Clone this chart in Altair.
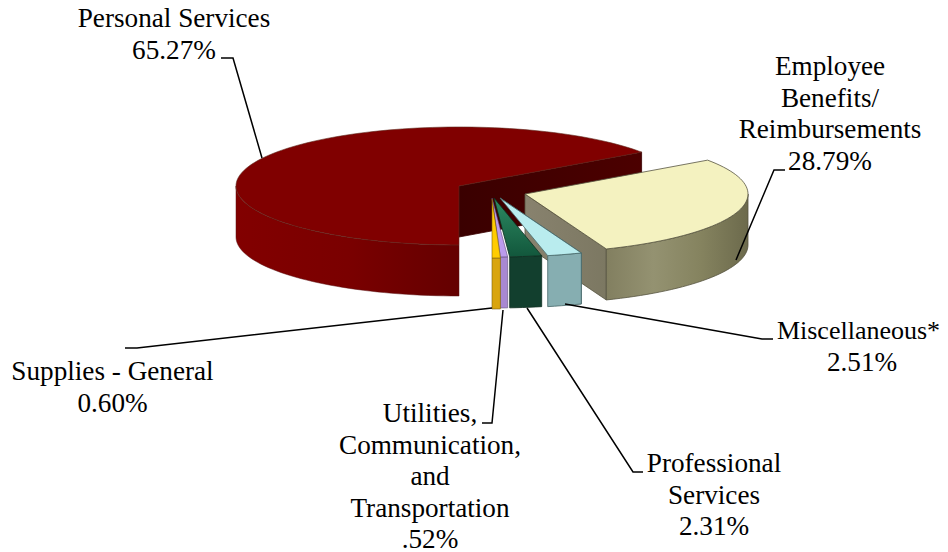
import math
import altair as alt
import pandas as pd

# ---- data ----
categories = ["Personal Services", "Employee Benefits/Reimbursements", "Miscellaneous*",
              "Professional Services", "Utilities, Communication, and Transportation", "Supplies - General"]
shares = [65.27, 28.79, 2.51, 2.31, 0.52, 0.60]
label_lines = [
    ["Personal Services", "65.27%"],
    ["Employee", "Benefits/", "Reimbursements", "28.79%"],
    ["Miscellaneous*", "2.51%"],
    ["Professional", "Services", "2.31%"],
    ["Utilities,", "Communication,", "and", "Transportation", ".52%"],
    ["Supplies - General", "0.60%"],
]

# ---- layout ----
RX, RY, DEPTH = 223, 59, 51
START = 270.0
centers = [(459, 186), (525, 194), (500, 198), (494, 198), (492, 198), (492, 199)]
label_x = [174, 830, 862, 714, 430, 112.5]
label_base = [27, 75, 339, 472, 422, 380]
LINE_H = 31.6
FONT = 27.2
leaders = [
    [(221, 58), (233, 58), (262, 158)],
    [(785, 170), (774, 170), (736, 260)],
    [(773, 339), (762, 339), (565, 304)],
    [(643, 472), (633, 472), (527, 308)],
    [(482, 423), (492, 423), (503, 310)],
    [(125, 348), (137, 348), (492, 308)],
]

X = alt.X("x:Q", scale=alt.Scale(domain=[8, 940]), axis=None)
Y = alt.Y("y:Q", scale=alt.Scale(domain=[552, 8]), axis=None)


def grad(*cols):
    n = len(cols) - 1
    return {"gradient": "linear", "x1": 0, "x2": 1, "y1": 0, "y2": 0,
            "stops": [{"offset": i / n, "color": c} for i, c in enumerate(cols)]}


def pt(c, t, dz=0):
    r = math.radians(t)
    return (c[0] + RX * math.cos(r), c[1] - RY * math.sin(r) + dz)


def arc(c, t0, t1, dz=0):
    n = max(2, int(abs(t1 - t0) / 2) + 2)
    return [pt(c, t0 + (t1 - t0) * i / (n - 1), dz) for i in range(n)]


def poly(points, fill, stroke, sw=0.8):
    pts = list(points) + [points[0]]
    df = pd.DataFrame({"x": [p[0] for p in pts], "y": [p[1] for p in pts], "i": range(len(pts))})
    return alt.Chart(df).mark_line(filled=True, fill=fill, stroke=stroke, strokeWidth=sw,
                                   strokeJoin="round").encode(x=X, y=Y, order="i:Q")


def down(p):
    return (p[0], p[1] + DEPTH)


# angular extents from the shares
ext = []
t = START
for s in shares:
    t1 = t - s * 3.6
    ext.append((t, t1))
    t = t1

layers = []

# Personal Services
c = centers[0]
t0, t1 = ext[0]
layers.append(poly([c, pt(c, t1), down(pt(c, t1)), down(c)], grad("#3a0000", "#4c0000"), "#3a0000"))
layers.append(poly(arc(c, 180, t0) + arc(c, t0, 180, DEPTH), grad("#820000", "#7a0000", "#640000"), "#5a1010", 0.5))
layers.append(poly([c] + arc(c, t0, t1), "#800000", "#5f2a1e", 0.6))

# Employee Benefits
c = centers[1]
t0, t1 = ext[1]
layers.append(poly([c, pt(c, t1), down(pt(c, t1)), down(c)], grad("#88826e", "#7c7862"), "#55533f"))
layers.append(poly(arc(c, t1, 0) + arc(c, 0, t1, DEPTH), grad("#827f60", "#949271", "#85835f", "#6c6a4c"), "#55533f"))
layers.append(poly([c] + arc(c, t0, t1), "#f4f2c0", "#55533f"))

# Miscellaneous
c = centers[2]
t0, t1 = ext[2]
e = pt(c, t0)
layers.append(poly([c, e, down(e), (e[0] - 5, e[1] + DEPTH), (e[0] - 5, e[1] + 2)], "#557476", "#3f5c5e"))
layers.append(poly(arc(c, t0, t1) + arc(c, t1, t0, DEPTH), "#86aeb1", "#47686a"))
layers.append(poly([c] + arc(c, t0, t1), "#b9ecee", "#47686a"))

# Professional Services
c = centers[3]
t0, t1 = ext[3]
layers.append(poly(arc(c, t0, t1) + arc(c, t1, t0, DEPTH), "#123f2e", "#0c2d20"))
layers.append(poly([c] + arc(c, t0, t1), {"gradient": "linear", "x1": 0, "x2": 0, "y1": 0, "y2": 1,
              "stops": [{"offset": 0, "color": "#2d8a62"}, {"offset": 1, "color": "#12573c"}]}, "#0c2d20"))

# Utilities
c = centers[4]
t0, t1 = ext[4]
layers.append(poly(arc(c, t0, t1) + arc(c, t1, t0, DEPTH), "#a888d2", "#5c4a78", 0.6))
layers.append(poly([c] + arc(c, t0, t1), "#bb9bec", "#5c4a78", 0.6))

# Supplies
c = centers[5]
t0, t1 = ext[5]
layers.append(poly(arc(c, t0, t1) + arc(c, t1, t0, DEPTH), "#d9a50f", "#7a6010", 0.6))
layers.append(poly([c] + arc(c, t0, t1), "#ffcc00", "#7a6010", 0.6))

# Leaders
rows = []
for k, pts in enumerate(leaders):
    for i, p in enumerate(pts):
        rows.append({"k": k, "i": i, "x": p[0], "y": p[1]})
layers.append(alt.Chart(pd.DataFrame(rows)).mark_line(color="#000000", strokeWidth=1.5).encode(
    x=X, y=Y, order="i:Q", detail="k:N"))

# Labels: the picture's right edge stops at x=940, so the widest label is set a touch smaller to stay whole
rows = []
for lines, lx, ly in zip(label_lines, label_x, label_base):
    for i, s in enumerate(lines):
        wide = s.startswith("Miscellaneous")
        rows.append({"x": lx - 3.5 if wide else lx, "y": ly + i * LINE_H, "t": s, "s": 26 if wide else FONT})
layers.append(alt.Chart(pd.DataFrame(rows)).mark_text(
    font="Liberation Serif", align="center", baseline="alphabetic", color="#000000"
).encode(x=X, y=Y, text="t:N", size=alt.Size("s:Q", scale=None, legend=None)))

chart = alt.layer(*layers).properties(
    width=932, height=544, padding=0, autosize=alt.AutoSizeParams(type="none"), background="#ffffff"
).configure_view(stroke=None)

chart.save("out.html", embed_options={"renderer": "svg", "actions": False})
